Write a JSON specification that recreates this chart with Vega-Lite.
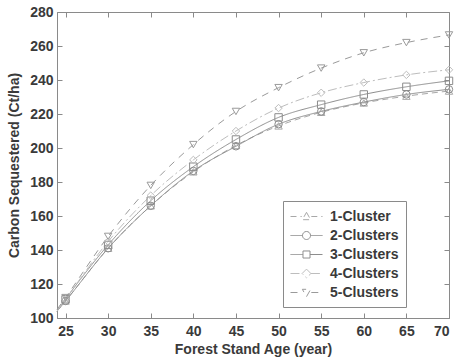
{
  "$schema": "https://vega.github.io/schema/vega-lite/v6.json",
  "width": 392,
  "height": 306,
  "autosize": {"type": "none"},
  "padding": {"left": 57, "top": 12, "right": 7, "bottom": 42},
  "background": "white",
  "config": {
    "font": "Liberation Sans",
    "view": {"stroke": "#8a8a8a", "strokeWidth": 1},
    "axis": {
      "grid": false,
      "domainColor": "#8a8a8a",
      "tickColor": "#8a8a8a",
      "tickSize": -5,
      "labelFont": "Liberation Sans",
      "labelFontWeight": "bold",
      "labelFontSize": 14,
      "labelColor": "#3a3a3a",
      "titleFont": "Liberation Sans",
      "titleFontWeight": "bold",
      "titleFontSize": 14,
      "titleColor": "#3a3a3a"
    },
    "legend": {
      "labelFont": "Liberation Sans",
      "labelFontWeight": "bold",
      "labelFontSize": 14,
      "labelColor": "#3a3a3a",
      "labelOffset": 23,
      "strokeColor": "#8a8a8a",
      "fillColor": "white",
      "padding": 7,
      "rowPadding": 3,
      "symbolSize": 256,
      "symbolStrokeWidth": 1,
      "symbolFillColor": "transparent",
      "symbolOpacity": 1
    }
  },
  "data": {
    "values": [
      {"age": 24, "series": "1-Cluster", "carbon": 104},
      {"age": 25, "series": "1-Cluster", "carbon": 110},
      {"age": 30, "series": "1-Cluster", "carbon": 141},
      {"age": 35, "series": "1-Cluster", "carbon": 166},
      {"age": 40, "series": "1-Cluster", "carbon": 186},
      {"age": 45, "series": "1-Cluster", "carbon": 201.5},
      {"age": 50, "series": "1-Cluster", "carbon": 213},
      {"age": 55, "series": "1-Cluster", "carbon": 221},
      {"age": 60, "series": "1-Cluster", "carbon": 226.5},
      {"age": 65, "series": "1-Cluster", "carbon": 230.5},
      {"age": 70, "series": "1-Cluster", "carbon": 233.5},
      {"age": 24, "series": "2-Clusters", "carbon": 104},
      {"age": 25, "series": "2-Clusters", "carbon": 110},
      {"age": 30, "series": "2-Clusters", "carbon": 141},
      {"age": 35, "series": "2-Clusters", "carbon": 166},
      {"age": 40, "series": "2-Clusters", "carbon": 186.5},
      {"age": 45, "series": "2-Clusters", "carbon": 201},
      {"age": 50, "series": "2-Clusters", "carbon": 214},
      {"age": 55, "series": "2-Clusters", "carbon": 221.5},
      {"age": 60, "series": "2-Clusters", "carbon": 227},
      {"age": 65, "series": "2-Clusters", "carbon": 231.5},
      {"age": 70, "series": "2-Clusters", "carbon": 234.5},
      {"age": 24, "series": "3-Clusters", "carbon": 104},
      {"age": 25, "series": "3-Clusters", "carbon": 111},
      {"age": 30, "series": "3-Clusters", "carbon": 143},
      {"age": 35, "series": "3-Clusters", "carbon": 169},
      {"age": 40, "series": "3-Clusters", "carbon": 189},
      {"age": 45, "series": "3-Clusters", "carbon": 205},
      {"age": 50, "series": "3-Clusters", "carbon": 218},
      {"age": 55, "series": "3-Clusters", "carbon": 225.5},
      {"age": 60, "series": "3-Clusters", "carbon": 231.5},
      {"age": 65, "series": "3-Clusters", "carbon": 236},
      {"age": 70, "series": "3-Clusters", "carbon": 239.5},
      {"age": 24, "series": "4-Clusters", "carbon": 104},
      {"age": 25, "series": "4-Clusters", "carbon": 111},
      {"age": 30, "series": "4-Clusters", "carbon": 145},
      {"age": 35, "series": "4-Clusters", "carbon": 172},
      {"age": 40, "series": "4-Clusters", "carbon": 193},
      {"age": 45, "series": "4-Clusters", "carbon": 210},
      {"age": 50, "series": "4-Clusters", "carbon": 223.5},
      {"age": 55, "series": "4-Clusters", "carbon": 232.5},
      {"age": 60, "series": "4-Clusters", "carbon": 238.5},
      {"age": 65, "series": "4-Clusters", "carbon": 243},
      {"age": 70, "series": "4-Clusters", "carbon": 246},
      {"age": 24, "series": "5-Clusters", "carbon": 105},
      {"age": 25, "series": "5-Clusters", "carbon": 112},
      {"age": 30, "series": "5-Clusters", "carbon": 148},
      {"age": 35, "series": "5-Clusters", "carbon": 178},
      {"age": 40, "series": "5-Clusters", "carbon": 202},
      {"age": 45, "series": "5-Clusters", "carbon": 221.5},
      {"age": 50, "series": "5-Clusters", "carbon": 235.5},
      {"age": 55, "series": "5-Clusters", "carbon": 247},
      {"age": 60, "series": "5-Clusters", "carbon": 256},
      {"age": 65, "series": "5-Clusters", "carbon": 262},
      {"age": 70, "series": "5-Clusters", "carbon": 266.5}
    ]
  },
  "layer": [
    {
      "mark": {"type": "point", "opacity": 0},
      "encoding": {
        "x": {
          "field": "age", "type": "quantitative",
          "scale": {"domain": [24, 70], "nice": false, "zero": false},
          "axis": {"orient": "top", "values": [25, 30, 35, 40, 45, 50, 55, 60, 65, 70], "labels": false, "title": null, "domain": false}
        },
        "y": {
          "field": "carbon", "type": "quantitative",
          "scale": {"domain": [100, 280], "nice": false, "zero": false},
          "axis": {"orient": "right", "values": [100, 120, 140, 160, 180, 200, 220, 240, 260, 280], "labels": false, "title": null, "domain": false}
        }
      }
    },
    {
      "mark": {"type": "line", "interpolate": "monotone", "strokeWidth": 1},
      "encoding": {
        "x": {
          "field": "age", "type": "quantitative",
          "scale": {"domain": [24, 70], "nice": false, "zero": false},
          "axis": {"values": [25, 30, 35, 40, 45, 50, 55, 60, 65, 70], "title": "Forest Stand Age (year)", "labelPadding": 11, "titlePadding": 4}
        },
        "y": {
          "field": "carbon", "type": "quantitative",
          "scale": {"domain": [100, 280], "nice": false, "zero": false},
          "axis": {"values": [100, 120, 140, 160, 180, 200, 220, 240, 260, 280], "title": "Carbon Sequestered (Ct/ha)", "labelPadding": 9, "titlePadding": 8}
        },
        "stroke": {
          "field": "series", "type": "nominal",
          "scale": {"domain": ["1-Cluster", "2-Clusters", "3-Clusters", "4-Clusters", "5-Clusters"], "range": ["#a8a8a8", "#8c8c8c", "#8c8c8c", "#bdbdbd", "#9a9a9a"]},
          "legend": {"title": null, "orient": "none", "legendX": 226, "legendY": 189, "symbolSize": 256}
        },
        "strokeDash": {
          "field": "series", "type": "nominal",
          "scale": {"domain": ["1-Cluster", "2-Clusters", "3-Clusters", "4-Clusters", "5-Clusters"], "range": [[6, 4], [1, 0], [1, 0], [9, 3, 2, 3], [7, 6]]},
          "legend": {"title": null, "orient": "none", "legendX": 226, "legendY": 189, "symbolSize": 256}
        }
      }
    },
    {"transform": [{"filter": "datum.series == '1-Cluster' && datum.age >= 25"}], "mark": {"type": "point", "shape": "triangle-up", "filled": false, "size": 55, "strokeWidth": 1, "opacity": 1}, "encoding": {"x": {"field": "age", "type": "quantitative", "axis": null}, "y": {"field": "carbon", "type": "quantitative", "axis": null}, "stroke": {"field": "series", "type": "nominal"}}},
    {"transform": [{"filter": "datum.series == '2-Clusters' && datum.age >= 25"}], "mark": {"type": "point", "shape": "circle", "filled": false, "size": 55, "strokeWidth": 1, "opacity": 1}, "encoding": {"x": {"field": "age", "type": "quantitative", "axis": null}, "y": {"field": "carbon", "type": "quantitative", "axis": null}, "stroke": {"field": "series", "type": "nominal"}}},
    {"transform": [{"filter": "datum.series == '3-Clusters' && datum.age >= 25"}], "mark": {"type": "point", "shape": "square", "filled": false, "size": 55, "strokeWidth": 1, "opacity": 1}, "encoding": {"x": {"field": "age", "type": "quantitative", "axis": null}, "y": {"field": "carbon", "type": "quantitative", "axis": null}, "stroke": {"field": "series", "type": "nominal"}}},
    {"transform": [{"filter": "datum.series == '4-Clusters' && datum.age >= 25"}], "mark": {"type": "point", "shape": "diamond", "filled": false, "size": 55, "strokeWidth": 1, "opacity": 1}, "encoding": {"x": {"field": "age", "type": "quantitative", "axis": null}, "y": {"field": "carbon", "type": "quantitative", "axis": null}, "stroke": {"field": "series", "type": "nominal"}}},
    {"transform": [{"filter": "datum.series == '5-Clusters' && datum.age >= 25"}], "mark": {"type": "point", "shape": "triangle-down", "filled": false, "size": 55, "strokeWidth": 1, "opacity": 1}, "encoding": {"x": {"field": "age", "type": "quantitative", "axis": null}, "y": {"field": "carbon", "type": "quantitative", "axis": null}, "stroke": {"field": "series", "type": "nominal"}}},
    {
      "mark": {"type": "point", "filled": false, "size": 256, "strokeWidth": 1, "opacity": 0},
      "encoding": {
        "x": {"field": "age", "type": "quantitative", "axis": null},
        "y": {"field": "carbon", "type": "quantitative", "axis": null},
        "stroke": {"field": "series", "type": "nominal"},
        "shape": {
          "field": "series", "type": "nominal",
          "scale": {
            "domain": ["1-Cluster", "2-Clusters", "3-Clusters", "4-Clusters", "5-Clusters"],
            "range": [
              "M-1,0H0.4M1.6,0H3M1,-0.52L1.52,0.4L0.48,0.4Z",
              "M-1,0H0.5M1.5,0H3M1.5,0A0.5,0.5 0 1,1 0.5,0A0.5,0.5 0 1,1 1.5,0Z",
              "M-1,0H0.56M1.44,0H3M0.56,-0.44H1.44V0.44H0.56Z",
              "M-1,0H0.45M1.55,0H3M1,-0.55L1.55,0L1,0.55L0.45,0Z",
              "M-1,0H0.4M1.6,0H3M1,0.52L1.52,-0.4L0.48,-0.4Z"
            ]
          },
          "legend": {"title": null, "orient": "none", "legendX": 226, "legendY": 189, "symbolOpacity": 1, "symbolSize": 256}
        }
      }
    }
  ],
  "resolve": {"axis": {"x": "independent", "y": "independent"}}
}
